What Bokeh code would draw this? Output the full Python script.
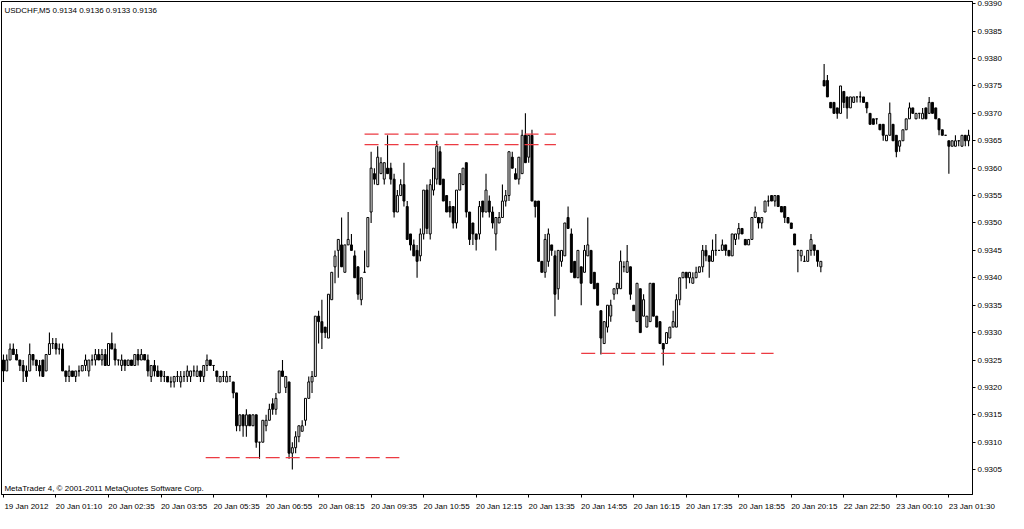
from bokeh.plotting import figure
from bokeh.models import (Range1d, LinearAxis, FixedTicker, PrintfTickFormatter,
                          Label, ColumnDataSource)
from bokeh.embed import file_html
from bokeh.resources import INLINE

# ---- data: USDCHF M5, prices as pips above 0.9300 (1 pip = 0.0001) ----
BASE = 0.9300
PIP = 0.0001

opens = [25, 23, 25, 27, 26, 25, 24, 23, 23, 26, 25, 24, 25, 23, 26, 28, 28, 27, 27, 23,
         22, 23, 22, 23, 23, 24, 23, 25, 25, 26, 25, 26, 24, 28, 27, 25, 24, 25, 24, 25,
         24, 26, 25, 26, 25, 22, 24, 23, 23, 22, 22, 21, 21, 22, 21, 22, 22, 22, 23, 22,
         23, 22, 24, 25, 24, 23, 21, 22, 21, 22, 21, 19, 13, 15, 13, 15, 13, 15, 10, 10,
         13, 14, 17, 16, 19, 23, 20, 21, 8, 9, 11, 12, 14, 18, 21, 22, 33, 32, 31, 29,
         36, 42, 45, 46, 41, 46, 46, 44, 42, 36, 41, 42, 52, 59, 57, 59, 58, 60, 60, 58,
         52, 55, 57, 53, 48, 46, 45, 44, 48, 56, 48, 56, 58, 63, 58, 55, 53, 53, 50, 56,
         57, 61, 52, 50, 48, 48, 54, 52, 54, 52, 48, 50, 51, 54, 55, 62, 59, 58, 59, 66,
         62, 66, 54, 54, 43, 41, 43, 46, 44, 38, 43, 44, 51, 48, 43, 40, 42, 41, 44, 45,
         41, 39, 34, 28, 31, 33, 37, 38, 38, 42, 41, 42, 35, 32, 38, 33, 31, 32, 39, 33,
         32, 28, 28, 29, 31, 31, 36, 40, 41, 40, 39, 40, 41, 42, 45, 44, 43, 45, 45, 45,
         46, 45, 44, 47, 48, 49, 47, 46, 47, 51, 51, 50, 52, 54, 55, 54, 55, 53, 53, 51,
         50, 48, 45, 44, 43, 43, 45, 46, 45, 42, 76, 76, 72, 72, 71, 70, 74, 73, 71, 72,
         73, 73, 73, 72, 70, 69, 69, 68, 68, 65, 66, 68, 66, 64, 65, 67, 69, 71, 69, 70,
         69, 71, 70, 72, 71, 69, 67, 66, 65, 64, 64, 65, 64, 66, 65]
highs = [26, 26, 28, 28, 27, 25, 25, 24, 28, 26, 25, 25, 25, 26, 30, 29, 29, 28, 28, 23,
         24, 23, 23, 24, 24, 26, 25, 26, 27, 27, 27, 27, 28, 30, 28, 25, 26, 25, 25, 25,
         26, 27, 27, 26, 26, 24, 25, 24, 23, 23, 22, 22, 22, 23, 23, 23, 24, 23, 24, 24,
         23, 24, 26, 25, 24, 23, 22, 23, 23, 22, 21, 19, 15, 15, 16, 15, 15, 15, 10, 14,
         15, 17, 18, 19, 23, 25, 22, 21, 10, 12, 13, 14, 18, 22, 23, 33, 34, 36, 31, 37,
         41, 45, 47, 51, 46, 52, 48, 45, 42, 40, 45, 51, 63, 60, 64, 62, 61, 66, 61, 59,
         56, 58, 61, 54, 48, 47, 46, 49, 56, 57, 58, 60, 65, 64, 58, 55, 54, 53, 56, 59,
         60, 61, 52, 50, 48, 54, 54, 59, 55, 53, 51, 52, 57, 56, 63, 63, 60, 62, 67, 70,
         66, 67, 54, 54, 43, 48, 49, 46, 45, 45, 45, 50, 53, 49, 43, 45, 42, 46, 51, 45,
         41, 39, 34, 32, 35, 36, 38, 39, 45, 43, 46, 42, 35, 39, 38, 37, 33, 39, 39, 33,
         32, 28, 30, 31, 34, 37, 40, 41, 41, 41, 41, 42, 42, 46, 46, 44, 47, 48, 45, 47,
         46, 45, 48, 48, 50, 49, 47, 47, 51, 53, 51, 51, 54, 55, 55, 55, 55, 53, 53, 51,
         50, 48, 45, 45, 44, 45, 48, 46, 45, 43, 79, 77, 72, 72, 71, 75, 74, 73, 73, 73,
         73, 74, 73, 72, 70, 69, 69, 68, 68, 66, 72, 68, 66, 65, 67, 69, 72, 71, 70, 70,
         71, 71, 73, 72, 71, 69, 67, 66, 65, 65, 66, 65, 66, 66, 67]
lows = [21, 23, 25, 26, 25, 23, 21, 21, 23, 24, 23, 22, 22, 23, 26, 27, 26, 26, 23, 21,
        21, 22, 21, 22, 23, 23, 22, 24, 24, 25, 24, 24, 24, 27, 24, 24, 23, 23, 24, 24,
        24, 24, 25, 25, 22, 21, 22, 22, 21, 21, 21, 20, 20, 21, 20, 21, 21, 21, 22, 22,
        21, 21, 23, 24, 23, 21, 21, 21, 21, 21, 18, 12, 12, 11, 11, 13, 13, 9, 7, 10,
        12, 14, 15, 15, 19, 22, 19, 7, 5, 8, 10, 12, 13, 18, 19, 22, 28, 27, 29, 29,
        36, 39, 40, 42, 41, 46, 45, 40, 36, 35, 41, 42, 50, 57, 57, 59, 57, 59, 57, 51,
        52, 55, 53, 47, 45, 44, 40, 43, 47, 48, 47, 55, 57, 57, 54, 52, 51, 49, 49, 56,
        57, 51, 46, 46, 45, 47, 51, 52, 51, 49, 45, 50, 51, 53, 54, 60, 58, 57, 59, 61,
        61, 54, 51, 43, 41, 40, 42, 44, 33, 36, 42, 44, 49, 41, 40, 40, 35, 41, 44, 39,
        38, 35, 26, 28, 30, 32, 36, 37, 38, 41, 41, 36, 34, 32, 30, 33, 31, 32, 33, 31,
        28, 24, 28, 29, 31, 31, 35, 40, 38, 39, 39, 40, 41, 41, 43, 40, 43, 44, 45, 45,
        44, 44, 44, 46, 47, 48, 46, 46, 47, 51, 49, 49, 52, 53, 54, 53, 53, 52, 50, 50,
        49, 46, 41, 43, 43, 43, 44, 44, 42, 41, 75, 73, 71, 70, 69, 70, 71, 69, 71, 72,
        72, 72, 72, 70, 68, 68, 68, 67, 65, 65, 66, 65, 62, 63, 65, 67, 69, 70, 69, 69,
        69, 69, 70, 70, 69, 66, 66, 66, 59, 64, 64, 64, 64, 64, 64]
closes = [23, 25, 27, 26, 25, 24, 23, 22, 26, 25, 24, 23, 22, 26, 28, 28, 27, 27, 23, 22,
          23, 22, 23, 23, 24, 25, 25, 25, 26, 25, 26, 24, 28, 27, 25, 25, 25, 24, 25, 24,
          26, 25, 26, 25, 23, 24, 23, 22, 22, 22, 21, 21, 22, 22, 22, 22, 23, 23, 23, 23,
          22, 24, 25, 24, 24, 22, 22, 22, 22, 22, 19, 13, 15, 13, 15, 13, 15, 10, 10, 14,
          14, 16, 16, 18, 23, 22, 22, 8, 9, 11, 13, 13, 18, 21, 22, 33, 32, 30, 30, 37,
          41, 44, 47, 42, 46, 47, 45, 40, 37, 40, 41, 51, 60, 58, 62, 61, 61, 59, 58, 52,
          55, 57, 54, 47, 46, 44, 43, 48, 56, 49, 57, 60, 64, 57, 54, 52, 52, 50, 56, 59,
          60, 52, 47, 48, 47, 53, 52, 56, 52, 50, 51, 51, 54, 55, 63, 60, 58, 62, 66, 61,
          66, 54, 53, 43, 41, 47, 48, 45, 37, 45, 45, 50, 49, 41, 40, 45, 39, 45, 46, 39,
          38, 35, 29, 32, 35, 35, 38, 39, 43, 42, 43, 37, 34, 39, 30, 36, 33, 39, 33, 31,
          28, 27, 30, 31, 32, 36, 40, 41, 40, 41, 40, 41, 42, 45, 44, 43, 45, 45, 45, 46,
          45, 44, 48, 48, 49, 48, 46, 47, 51, 52, 50, 51, 54, 54, 54, 55, 53, 52, 51, 50,
          49, 46, 45, 45, 43, 45, 47, 45, 43, 43, 75, 73, 71, 70, 70, 75, 72, 71, 73, 73,
          73, 73, 72, 71, 68, 68, 69, 67, 66, 66, 70, 65, 63, 65, 67, 69, 71, 70, 70, 70,
          70, 69, 72, 70, 69, 67, 66, 66, 64, 65, 65, 65, 66, 65, 66]

# time-axis labels every 16 bars
tick_bars = [0, 16, 32, 48, 64, 80, 96, 112, 128, 144, 160, 176, 192, 208, 224, 240, 256, 272, 288]
tick_labels = ["19 Jan 2012", "20 Jan 01:10", "20 Jan 02:35", "20 Jan 03:55", "20 Jan 05:35",
               "20 Jan 06:55", "20 Jan 08:15", "20 Jan 09:35", "20 Jan 10:55", "20 Jan 12:15",
               "20 Jan 13:35", "20 Jan 14:55", "20 Jan 16:15", "20 Jan 17:35", "20 Jan 18:55",
               "20 Jan 20:15", "22 Jan 22:50", "23 Jan 00:10", "23 Jan 01:30"]
price_ticks = [0.9305, 0.9310, 0.9315, 0.9320, 0.9325, 0.9330, 0.9335, 0.9340, 0.9345,
               0.9350, 0.9355, 0.9360, 0.9365, 0.9370, 0.9375, 0.9380, 0.9385, 0.9390]

# user-drawn dashed level lines: price, first bar, last bar
level_prices = [0.93072, 0.93662, 0.93643, 0.93262]
level_from = [61.6, 110.0, 110.0, 176.0]
level_to = [120.6, 168.3, 168.3, 234.6]

title_text = "USDCHF,M5  0.9134 0.9136 0.9133 0.9136"
footer_text = "MetaTrader 4, \u00a9 2001-2011 MetaQuotes Software Corp."

# ---- build ----
FONT = "Liberation Sans"
n = len(opens)
o = [BASE + v * PIP for v in opens]
h = [BASE + v * PIP for v in highs]
l = [BASE + v * PIP for v in lows]
c = [BASE + v * PIP for v in closes]
src = ColumnDataSource(dict(
    x=list(range(n)), h=h, l=l,
    top=[max(a, b) for a, b in zip(o, c)],
    bottom=[min(a, b) for a, b in zip(o, c)],
    fill=["white" if cc >= oo else "black" for oo, cc in zip(o, c)],
))

p = figure(width=1008, height=513,
           x_range=Range1d(-0.6, 295.2), y_range=Range1d(0.930046, 0.939041),
           output_backend="svg", toolbar_location=None,
           x_axis_location=None, y_axis_location=None,
           min_border_left=1, min_border_top=1, min_border_right=36, min_border_bottom=17,
           background_fill_color="white", border_fill_color="white")
for g in p.grid:
    g.visible = False
p.outline_line_color = "black"
p.outline_line_width = 1

p.segment(x0="x", y0="h", x1="x", y1="l", source=src, line_color="black", line_width=1.1)
p.vbar(x="x", top="top", bottom="bottom", width=0.6, source=src,
       fill_color="fill", line_color="black", line_width=1)

p.segment(x0=level_from, y0=level_prices, x1=level_to, y1=level_prices,
          line_color="#ec3a42", line_width=1.2, line_dash="14 6")

yaxis = LinearAxis(ticker=FixedTicker(ticks=price_ticks),
                   formatter=PrintfTickFormatter(format="%.4f"),
                   major_tick_out=3, major_tick_in=0, minor_tick_out=0, minor_tick_in=0,
                   major_label_standoff=2, axis_line_color="black", major_tick_line_color="black",
                   major_label_text_font=FONT, major_label_text_font_size="8px",
                   major_label_text_color="black")
p.add_layout(yaxis, "right")

LABEL_SHIFT = 7
label_pos = [t + LABEL_SHIFT for t in tick_bars]
xaxis = LinearAxis(ticker=FixedTicker(ticks=label_pos, minor_ticks=tick_bars),
                   major_label_overrides={pos: lab for pos, lab in zip(label_pos, tick_labels)},
                   major_tick_out=0, major_tick_in=0, minor_tick_out=3, minor_tick_in=0,
                   minor_tick_line_color="black", major_label_standoff=4,
                   axis_line_color="black",
                   major_label_text_font=FONT, major_label_text_font_size="8px",
                   major_label_text_color="black")
p.add_layout(xaxis, "below")

p.add_layout(Label(x=0.3, y=0.938873, text=title_text, text_font=FONT,
                   text_font_size="8px", text_color="black", text_baseline="alphabetic"))
p.add_layout(Label(x=0.3, y=0.930160, text=footer_text, text_font=FONT,
                   text_font_size="8px", text_color="black", text_baseline="alphabetic"))

with open("out.html", "w", encoding="utf-8") as f:
    f.write(file_html(p, INLINE))
